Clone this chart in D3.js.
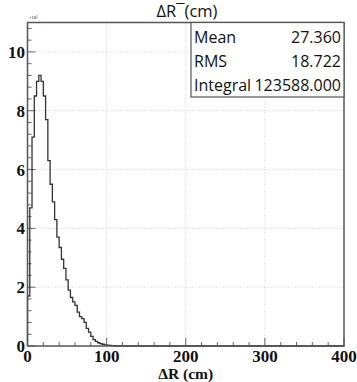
<!DOCTYPE html>
<meta charset="utf-8">
<head>
  <title>Delta R histogram</title>
</head>
<style>
body { margin: 0; background: #fff; }
.frame { fill: none; stroke: #555; stroke-width: 1.5px; }
.grid line { stroke: #ccc; stroke-width: 1px; stroke-dasharray: 1,2; }
.tick-mark { stroke: #666; stroke-width: 1px; }
.hist { fill: none; stroke: #333; stroke-width: 1.3px; }
.lab { font-family: "Liberation Serif", serif; font-weight: bold; font-size: 17px; fill: #111; }
.stat { font-family: "Open Sans", sans-serif; font-size: 16px; fill: #111; }
.title { font-family: "Open Sans", sans-serif; font-size: 16.5px; fill: #111; }
</style>
<body>
  <svg width="357" height="382"></svg>
  <script src="https://cdnjs.cloudflare.com/ajax/libs/d3/7.8.5/d3.min.js"></script>
  <script>
// bin contents, in units of 10^3 entries
var binWidth = 400 / 140
var counts = [1.7, 4.7, 7.1, 8.5, 9.0, 9.2, 9.0, 8.5, 7.7, 6.3, 5.5, 4.9, 4.3, 3.7,
  3.35, 2.95, 2.64, 2.25, 1.9, 1.65, 1.5, 1.38, 1.15, 1.0, 0.93, 0.8, 0.6, 0.47,
  0.33, 0.22, 0.16, 0.11, 0.08, 0.06, 0.04, 0.03, 0.02, 0.015, 0.01]
var xTicks = [0, 100, 200, 300, 400]
var yTicks = [0, 2, 4, 6, 8, 10]
var statNames = ['Mean', 'RMS', 'Integral']
var statValues = ['27.360', '18.722', '123588.000']

// note: "top" is reserved on window, so use plot* names
var plotL = 27.5, plotT = 22.5, plotR = 344, plotB = 346

var svg = d3.select('svg')
var x = d3.scaleLinear().domain([0, 400]).range([plotL, plotR])
var y = d3.scaleLinear().domain([0, 11]).range([plotB, plotT])

// grid
var grid = svg.append('g').attr('class', 'grid')
grid.selectAll('line.gx')
  .data(xTicks.filter(function(d) { return d > 0 && d < 400 }))
  .enter().append('line')
  .attr('x1', function(d) { return x(d) }).attr('x2', function(d) { return x(d) })
  .attr('y1', plotT).attr('y2', plotB)
grid.selectAll('line.gy')
  .data(yTicks.filter(function(d) { return d > 0 }))
  .enter().append('line')
  .attr('y1', function(d) { return y(d) }).attr('y2', function(d) { return y(d) })
  .attr('x1', plotL).attr('x2', plotR)

// ticks, drawn inward like ROOT
var ticks = svg.append('g')
ticks.selectAll('line.xt')
  .data(d3.range(0, 401, 20))
  .enter().append('line')
  .attr('class', 'tick-mark')
  .attr('x1', function(d) { return x(d) }).attr('x2', function(d) { return x(d) })
  .attr('y1', plotB)
  .attr('y2', function(d) { return plotB - (d % 100 === 0 ? 8 : 4) })
ticks.selectAll('line.yt')
  .data(d3.range(0, 28).map(function(i) { return i * 0.4 }))
  .enter().append('line')
  .attr('class', 'tick-mark')
  .attr('y1', function(d) { return y(d) }).attr('y2', function(d) { return y(d) })
  .attr('x1', plotL)
  .attr('x2', function(d, i) { return plotL + (i % 5 === 0 ? 8 : 4) })

// histogram outline
var pts = [[0, 0]]
counts.forEach(function(c, i) { pts.push([i * binWidth, c]) })
pts.push([counts.length * binWidth, 0])
pts.push([400, 0])
var line = d3.line()
  .x(function(d) { return x(d[0]) })
  .y(function(d) { return y(d[1]) })
  .curve(d3.curveStepAfter)
svg.append('path').attr('class', 'hist').attr('d', line(pts))

// frame
svg.append('rect').attr('class', 'frame')
  .attr('x', plotL).attr('y', plotT)
  .attr('width', plotR - plotL).attr('height', plotB - plotT)

// axis labels
svg.selectAll('text.xl')
  .data(xTicks)
  .enter().append('text')
  .attr('class', 'lab')
  .attr('x', function(d) { return x(d) })
  .attr('y', 361.5)
  .attr('text-anchor', 'middle')
  .text(function(d) { return d })
svg.selectAll('text.yl')
  .data(yTicks)
  .enter().append('text')
  .attr('class', 'lab')
  .attr('x', 25)
  .attr('y', function(d) { return y(d) + 6 })
  .attr('text-anchor', 'end')
  .text(function(d) { return d })
svg.append('text').attr('class', 'lab')
  .attr('x', (plotL + plotR) / 2).attr('y', 379)
  .attr('text-anchor', 'middle')
  .style('font-size', '15.5px')
  .text('\u0394R  (cm)')
svg.append('text')
  .attr('x', 29).attr('y', 19)
  .style('font-family', 'Liberation Serif').style('font-size', '4.5px')
  .text('\u00d710\u00b3')

// title
svg.append('text').attr('class', 'title')
  .attr('x', 187).attr('y', 17)
  .attr('text-anchor', 'middle')
  .text('\u0394R\u00af(cm)')

// stats box
var box = svg.append('g')
box.append('rect')
  .attr('x', 191).attr('y', plotT)
  .attr('width', plotR - 191).attr('height', 97 - plotT)
  .attr('fill', '#fff').attr('stroke', '#555').attr('stroke-width', 1.2)
box.selectAll('text.sn')
  .data(statNames)
  .enter().append('text')
  .attr('class', 'stat')
  .attr('x', 194)
  .attr('y', function(d, i) { return 43 + i * 24.2 })
  .text(function(d) { return d })
box.selectAll('text.sv')
  .data(statValues)
  .enter().append('text')
  .attr('class', 'stat')
  .attr('x', 341)
  .attr('y', function(d, i) { return 43 + i * 24.2 })
  .attr('text-anchor', 'end')
  .text(function(d) { return d })
  </script>
</body>
</html>
